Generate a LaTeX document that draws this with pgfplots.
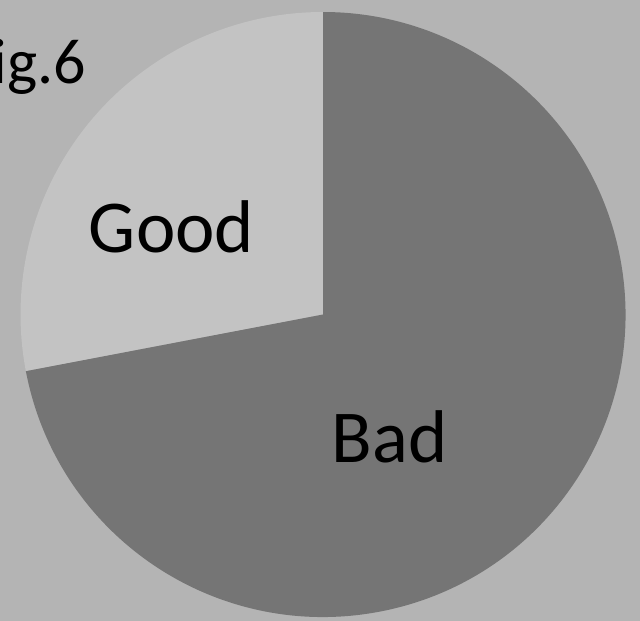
\documentclass[border=0pt]{standalone}
\usepackage{fontspec}
\setmainfont{Carlito}
\usepackage{pgfplots}
\usepackage{pgfplotstable}
\pgfplotsset{compat=1.18}

\definecolor{bgcol}{RGB}{180,180,180}
\definecolor{goodcol}{RGB}{195,195,195}
\definecolor{badcol}{RGB}{117,117,117}

% share of each slice, in percent
\pgfplotstableread{
label value
Good  28
Bad   72
}\piedata

\begin{document}
\begin{tikzpicture}
\pgfplotstablegetelem{0}{value}\of\piedata \let\vgood\pgfplotsretval
\pgfmathsetmacro{\agood}{90+3.6*\vgood}
\pgfmathsetmacro{\cx}{cos(\agood)}
\pgfmathsetmacro{\cy}{sin(\agood)}
\begin{axis}[
    scale only axis,
    x=226.875pt, y=226.875pt,
    xmin=-1.0678, xmax=1.0479,
    ymin=-1.0132, ymax=1.0397,
    hide axis,
    clip=false,
]
\fill[bgcol] (rel axis cs:0,0) rectangle (rel axis cs:1,1);
% Good: from the top, counterclockwise
\fill[goodcol] (axis cs:0,0) -- (axis cs:0,1) arc[start angle=90, end angle=\agood, radius=226.875pt] -- cycle;
% Bad: the rest
\fill[badcol] (axis cs:0,0) -- (axis cs:\cx,\cy) arc[start angle=\agood, end angle=450, radius=226.875pt] -- cycle;
\node[anchor=base, inner sep=0, font=\fontsize{56}{60}\selectfont] at (axis cs:-0.501,0.2066) {Good};
\node[anchor=base, inner sep=0, font=\fontsize{56}{60}\selectfont] at (axis cs:0.2198,-0.4876) {Bad};
\node[anchor=base east, inner sep=0, font=\fontsize{48}{50}\selectfont] at (axis cs:-0.782,0.765) {Fig.6};
\end{axis}
\pgfresetboundingbox
\useasboundingbox (current axis.south west) rectangle (current axis.north east);
\end{tikzpicture}
\end{document}
